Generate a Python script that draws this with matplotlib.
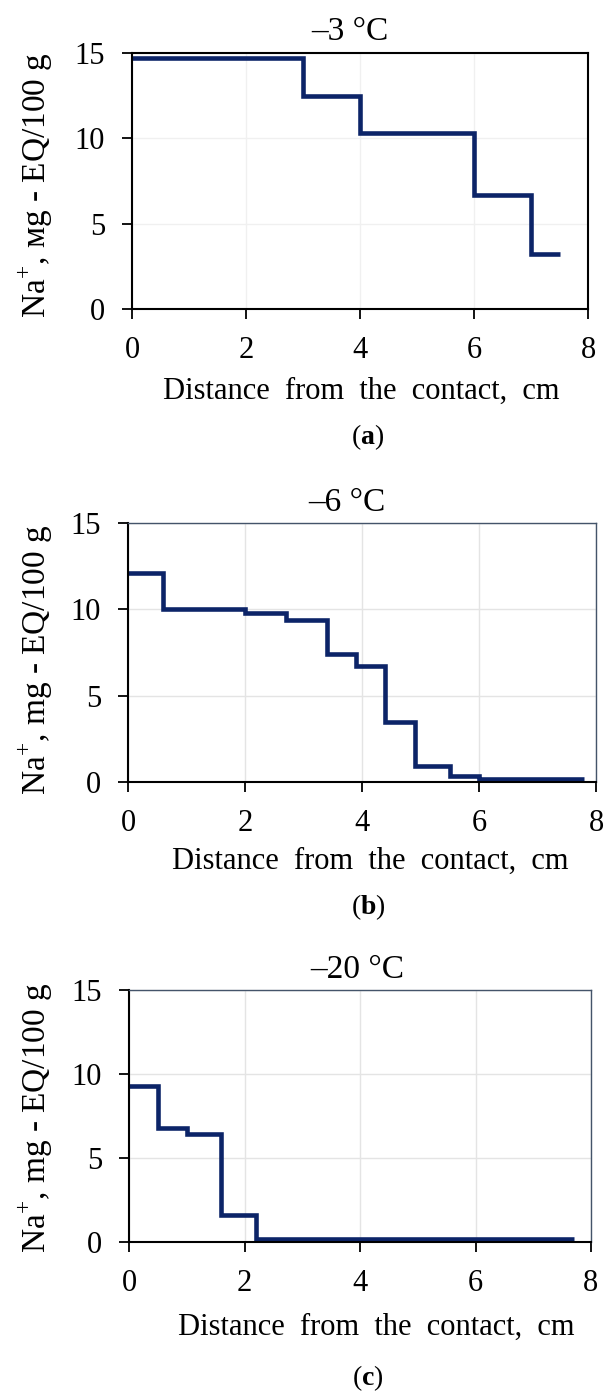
import matplotlib
matplotlib.use('Agg')
import matplotlib.pyplot as plt

plt.rcParams['font.family'] = ['Liberation Serif', 'DejaVu Serif']
plt.rcParams['mathtext.fontset'] = 'custom'
plt.rcParams['mathtext.rm'] = 'Liberation Serif'
plt.rcParams['mathtext.bf'] = 'Liberation Serif:bold'

# panel (a) -3 °C
a_edges = [0, 3, 4, 6, 7, 7.5]
a_vals = [14.7, 12.5, 10.3, 6.7, 3.2]
# panel (b) -6 °C
b_edges = [0, 0.6, 2.0, 2.7, 3.4, 3.9, 4.4, 4.9, 5.5, 6.0, 7.8]
b_vals = [12.1, 10.0, 9.8, 9.4, 7.4, 6.7, 3.5, 0.9, 0.35, 0.15]
# panel (c) -20 °C
c_edges = [0, 0.5, 1.0, 1.6, 2.2, 7.7]
c_vals = [9.3, 6.8, 6.4, 1.6, 0.15]

titles = ['–3 °C', '–6 °C', '–20 °C']
letters = ['a', 'b', 'c']
ylabels = ['Na$^{+}$, мg - EQ/100 g', 'Na$^{+}$, mg - EQ/100 g', 'Na$^{+}$, mg - EQ/100 g']
xticks = [0, 2, 4, 6, 8]
yticks = [0, 5, 10, 15]

line_col = '#0c2468'
frame_col = '#44546a'

fig = plt.figure(figsize=(6.05, 13.94), dpi=100)
W, H = 605, 1394
# axes boxes in pixels: left, right, top, bottom
boxes = [(132, 588, 53, 309), (128, 596, 523, 782), (129, 591, 990, 1242)]
letter_y = [437, 907, 1378]
xlabel_pos = [(361, 377), (370, 847), (376, 1313)]  # centre x, top y
ylabel_y = [185, 660, 1118]
title_x = [350, 347, 357]

data = [(a_edges, a_vals), (b_edges, b_vals), (c_edges, c_vals)]

for i, (edges, vals) in enumerate(data):
    l, r, t, b = boxes[i]
    ax = fig.add_axes([l / W, 1 - b / H, (r - l) / W, (b - t) / H])
    ax.stairs(vals, edges, baseline=None, color=line_col, lw=3.3)
    ax.set_xlim(0, 8)
    ax.set_ylim(0, 15)
    ax.set_xticks(xticks)
    ax.set_yticks(yticks)
    ax.grid(True, color='#f0f0f0' if i == 0 else '#e4e4e4', lw=1.0)
    ax.set_axisbelow(True)
    ax.tick_params(direction='out', length=7.5, width=1.3, labelsize=22, pad=12)
    for s in ['left', 'bottom']:
        ax.spines[s].set_linewidth(1.5)
        ax.spines[s].set_color('black')
    for s in ['top', 'right']:
        if i == 0:
            ax.spines[s].set_linewidth(1.5)
            ax.spines[s].set_color('black')
        else:
            ax.spines[s].set_linewidth(1.0)
            ax.spines[s].set_color(frame_col)
    ax.set_title(titles[i], fontsize=24, pad=9, x=(title_x[i] - l) / (r - l))
    ax.set_xlabel('Distance  from  the  contact,  cm', fontsize=22)
    ax.set_ylabel(ylabels[i], fontsize=24)
    ax.yaxis.set_label_coords(36 / W, 1 - ylabel_y[i] / H, transform=fig.transFigure)
    ax.yaxis.label.set_va('center')
    ax.xaxis.set_label_coords(xlabel_pos[i][0] / W, 1 - xlabel_pos[i][1] / H, transform=fig.transFigure)
    fig.text(368 / W, 1 - letter_y[i] / H, '($\\mathbf{' + letters[i] + '}$)',
             fontsize=20, ha='center', va='center')

fig.savefig('out.png', dpi=100)
